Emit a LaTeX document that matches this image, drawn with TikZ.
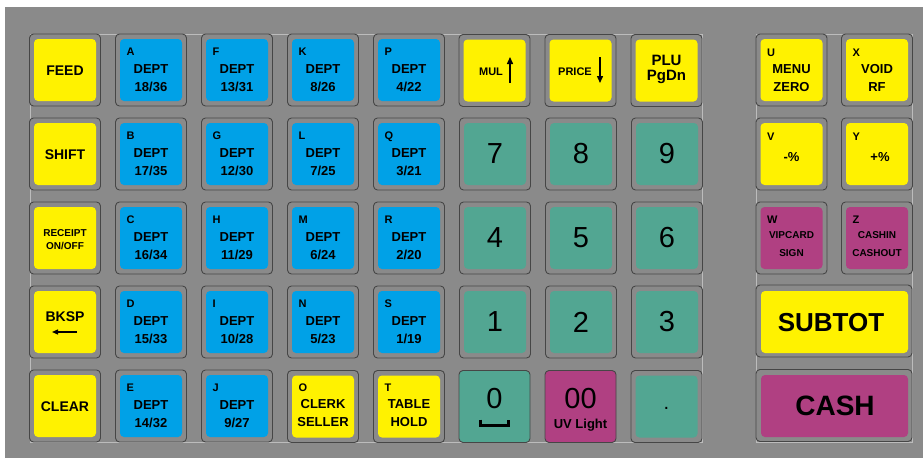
\documentclass[tikz,border=0pt]{standalone}
\usepackage{fontspec}
\setmainfont{Liberation Sans}
\usepackage{tikz}
\usetikzlibrary{
    arrows.meta
}
\usepackage{xcolor}

\definecolor{panelgray}{RGB}{138,138,138}
\definecolor{panelline}{RGB}{188,188,188}
\definecolor{keyedge}{RGB}{70,70,70}
\definecolor{capyellow}{RGB}{255,242,0}
\definecolor{capblue}{RGB}{0,161,231}
\definecolor{capteal}{RGB}{82,166,146}
\definecolor{capmagenta}{RGB}{176,64,130}

\begin{document}
\begin{tikzpicture}[
        x=1pt, y=-1pt,
        >={Triangle[length=7pt,width=6pt]},
        keyframe/.style={
            draw=keyedge,
            fill=panelgray,
            line width=0.9pt,
            rounded corners=4pt,
            inner sep=0pt,
            minimum width=71pt,
            minimum height=72pt
        },
        keycap/.style={
            fill=#1,
            rounded corners=4pt,
            inner sep=0pt,
            minimum width=62pt,
            minimum height=62pt
        },
        flatkey/.style={
            keyframe,
            fill=#1
        },
        word/.style={font=\bfseries\fontsize{14}{16}\selectfont, anchor=base, inner sep=0pt},
        txt/.style={font=\bfseries\fontsize{13}{15}\selectfont, anchor=base, inner sep=0pt},
        smalltxt/.style={font=\bfseries\fontsize{10}{12}\selectfont, anchor=base, inner sep=0pt},
        letter/.style={font=\bfseries\fontsize{11}{13}\selectfont, anchor=base west, inner sep=0pt},
        numtxt/.style={font=\fontsize{29}{31}\selectfont, inner sep=0pt}
    ]
        \useasboundingbox (0,0) rectangle (923,458);
        \fill[white] (0,0) rectangle (923,458);
        \fill[panelgray] (5,7) rectangle (923,458);
        \draw[panelline, line width=0.8pt] (30,34) rectangle (702,442);
        \draw[panelline, line width=0.8pt] (756,34) rectangle (912,442);

        % first column
        \foreach \row/\w in {1/FEED, 2/SHIFT, 5/CLEAR} {
            \node[keyframe] (f-\w) at (65,{70+84*(\row-1)}) {};
            \node[keycap=capyellow] (k-\w) at (65,{70+84*(\row-1)}) {};
            \node[word] (t-\w) at (65,{75+84*(\row-1)}) {\w};
        }
        \node[keyframe] (f-rc) at (65,238) {};
        \node[keycap=capyellow] (k-rc) at (65,238) {};
        \node[smalltxt] (t-rc1) at (65,236) {RECEIPT};
        \node[smalltxt] (t-rc2) at (65,249.5) {ON/OFF};
        \node[keyframe] (f-bk) at (65,322) {};
        \node[keycap=capyellow] (k-bk) at (65,322) {};
        \node[word] (t-bk) at (65,321) {BKSP};
        \coordinate (bk-a) at (77,332);
        \coordinate (bk-b) at (52,332);
        \draw[-{Triangle[length=6pt,width=5pt]}, line width=1.3pt] (bk-a) -- (bk-b);

        % department keys
        \foreach \col/\row/\k/\n [evaluate=\col as \xx using 65+86*(\col-1),
                                  evaluate=\row as \yy using 70+84*(\row-1)] in {
            2/1/A/{18/36}, 2/2/B/{17/35}, 2/3/C/{16/34}, 2/4/D/{15/33}, 2/5/E/{14/32},
            3/1/F/{13/31}, 3/2/G/{12/30}, 3/3/H/{11/29}, 3/4/I/{10/28}, 3/5/J/{9/27},
            4/1/K/{8/26}, 4/2/L/{7/25}, 4/3/M/{6/24}, 4/4/N/{5/23},
            5/1/P/{4/22}, 5/2/Q/{3/21}, 5/3/R/{2/20}, 5/4/S/{1/19}} {
            \node[keyframe] (f-\k) at (\xx,\yy) {};
            \node[keycap=capblue] (k-\k) at (\xx,\yy) {};
            \node[letter] (\k-l) at (\xx-24.5,\yy-15) {\k};
            \node[txt] (\k-1) at (\xx,\yy+3.5) {DEPT};
            \node[txt] (\k-2) at (\xx,\yy+21.5) {\n};
        }
        \foreach \col/\k/\a/\b [evaluate=\col as \xx using 65+86*(\col-1)] in {
            4/O/CLERK/SELLER, 5/T/TABLE/HOLD} {
            \node[keyframe] (f-\k) at (\xx,406.5) {};
            \node[keycap=capyellow] (k-\k) at (\xx,406.5) {};
            \node[letter] (\k-l) at (\xx-24.5,391.5) {\k};
            \node[txt] (\k-1) at (\xx,408.5) {\a};
            \node[txt] (\k-2) at (\xx,426.5) {\b};
        }

        % MUL, PRICE, PLU
        \foreach \x/\k in {494.5/mul, 580.5/price, 666.5/plu} {
            \node[keyframe] (f-\k) at (\x,70.5) {};
            \node[keycap=capyellow] (k-\k) at (\x,70.5) {};
        }
        \node[font=\bfseries\fontsize{11}{13}\selectfont, anchor=base, inner sep=0pt] (t-mul) at (491,75) {MUL};
        \coordinate (mul-a) at (510,83);
        \coordinate (mul-b) at (510,57);
        \draw[->, line width=1.4pt] (mul-a) -- (mul-b);
        \node[font=\bfseries\fontsize{11}{13}\selectfont, anchor=base, inner sep=0pt] (t-price) at (575,75) {PRICE};
        \coordinate (price-a) at (600,57);
        \coordinate (price-b) at (600,83);
        \draw[->, line width=1.4pt] (price-a) -- (price-b);
        \node[font=\bfseries\fontsize{15}{17}\selectfont, anchor=base, inner sep=0pt] (t-plu1) at (666.5,65) {PLU};
        \node[font=\bfseries\fontsize{15}{17}\selectfont, anchor=base, inner sep=0pt] (t-plu2) at (666.5,80.5) {PgDn};

        % number pad
        \foreach \col/\row/\d [evaluate=\col as \xx using 65+86*(\col-1),
                               evaluate=\row as \yy using 70+84*(\row-1)] in {
            6/2/7, 7/2/8, 8/2/9, 6/3/4, 7/3/5, 8/3/6, 6/4/1, 7/4/2, 8/4/3} {
            \node[keyframe] (f-\d) at (\xx,\yy) {};
            \node[keycap=capteal] (k-\d) at (\xx,\yy) {};
            \node[numtxt] (t-\d) at (\xx,\yy) {\d};
        }
        \node[flatkey=capteal] (k-0) at (494.5,406.5) {};
        \node[numtxt] (t-0) at (494.5,399) {0};
        \draw[line width=2.2pt] (480.5,419.5) -- (480.5,425.5) -- (508.5,425.5) -- (508.5,419.5);
        \node[flatkey=capmagenta] (k-00) at (580.5,406.5) {};
        \node[numtxt] (t-00) at (580.5,399) {00};
        \node[font=\bfseries\fontsize{13}{15}\selectfont, anchor=base, inner sep=0pt] (t-uv) at (580.5,428) {UV Light};
        \node[keyframe] (f-dot) at (666.5,406.5) {};
        \node[keycap=capteal] (k-dot) at (666.5,406.5) {};
        \node[font=\fontsize{20}{22}\selectfont, anchor=base, inner sep=0pt] (t-dot) at (666.5,409) {.};

        % right block
        \foreach \x/\y/\c/\k/\a/\b in {
            791.5/70/capyellow/U/MENU/ZERO, 877/70/capyellow/X/VOID/RF} {
            \node[keyframe] (f-\k) at (\x,\y) {};
            \node[keycap=\c] (k-\k) at (\x,\y) {};
            \node[letter] (\k-l) at (\x-24.5,\y-14) {\k};
            \node[txt] (\k-1) at (\x,\y+3) {\a};
            \node[txt] (\k-2) at (\x,\y+21) {\b};
        }
        \foreach \x/\k/\a/\s in {791.5/V/-\%/0, 877/Y/+\%/3} {
            \node[keyframe] (f-\k) at (\x,154) {};
            \node[keycap=capyellow] (k-\k) at (\x,154) {};
            \node[letter] (\k-l) at (\x-24.5,140) {\k};
            \node[txt] (\k-1) at (\x+\s,161) {\a};
        }
        \foreach \x/\k/\a/\b in {791.5/W/VIPCARD/SIGN, 877/Z/CASHIN/CASHOUT} {
            \node[keyframe] (f-\k) at (\x,238) {};
            \node[keycap=capmagenta] (k-\k) at (\x,238) {};
            \node[letter] (\k-l) at (\x-24.5,223) {\k};
            \node[smalltxt] (\k-1) at (\x,238) {\a};
            \node[smalltxt] (\k-2) at (\x,256) {\b};
        }
        \node[keyframe, minimum width=156pt] (f-sub) at (834,321) {};
        \node[keycap=capyellow, minimum width=147pt] (k-sub) at (834.5,322) {};
        \node[font=\bfseries\fontsize{26}{28}\selectfont, anchor=base, inner sep=0pt] (t-sub) at (831,331.5) {SUBTOT};
        \node[keyframe, minimum width=156pt] (f-cash) at (834,405.5) {};
        \node[keycap=capmagenta, minimum width=147pt] (k-cash) at (834.5,406) {};
        \node[font=\bfseries\fontsize{28}{30}\selectfont, anchor=base, inner sep=0pt] (t-cash) at (835,415.5) {CASH};
    \end{tikzpicture}
\end{document}
